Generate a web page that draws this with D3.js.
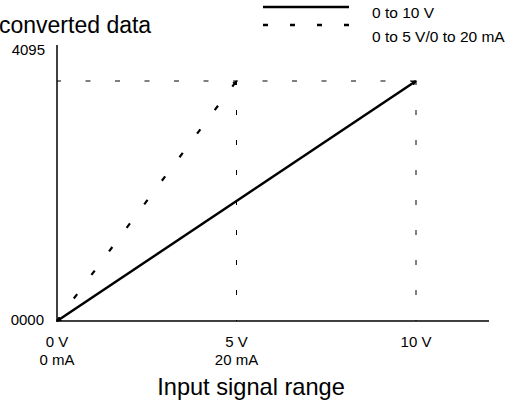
<!DOCTYPE html>
<html>
<head>
<meta charset="utf-8">
<script src="https://cdn.jsdelivr.net/npm/d3@7"></script>
<style>
  html, body { margin: 0; padding: 0; background: #fff; }
  svg { display: block; font-family: "Liberation Sans", Arial, Helvetica, sans-serif; }
</style>
</head>
<body>
<svg id="chart" width="509" height="402"></svg>
<script>
// ---- data ----
const xTickValues = [0, 5, 10];
const xTickLabelsV = ["0 V", "5 V", "10 V"];
const xTickLabelsMA = ["0 mA", "20 mA", ""];
const yTickLabels = ["0000", "4095"];
const series10V = [[0, 0], [10, 4095]];          // 0 to 10 V
const series5V = [[0, 0], [5, 4095]];            // 0 to 5 V / 0 to 20 mA
const legendLabels = ["0 to 10 V", "0 to 5 V/0 to 20 mA"];
const titleText = "converted data";
const xAxisTitle = "Input signal range";

// ---- layout ----
const svg = d3.select("#chart");
const x0 = 57, x10 = 416, y0 = 321, yTop = 81;
const x = d3.scaleLinear().domain([0, 10]).range([x0, x10]);
const y = d3.scaleLinear().domain([0, 4095]).range([y0, yTop]);

// markers
const defs = svg.append("defs");
defs.append("marker").attr("id", "arr").attr("viewBox", "0 0 10 10")
  .attr("refX", 8).attr("refY", 5).attr("markerWidth", 2.2).attr("markerHeight", 2.2)
  .attr("orient", "auto-start-reverse")
  .append("path").attr("d", "M0,0 L10,5 L0,10 Z").attr("fill", "#000");

// grid dashed reference lines
svg.append("line")
  .attr("x1", x(0)).attr("x2", x(10)).attr("y1", y(4095)).attr("y2", y(4095))
  .attr("stroke", "#000").attr("stroke-width", 1).attr("stroke-dasharray", "5,24.5")
  .attr("stroke-dashoffset", 1);
[5, 10].forEach(v => {
  svg.append("line")
    .attr("x1", x(v)).attr("x2", x(v)).attr("y1", y(4095)).attr("y2", y(0))
    .attr("stroke", "#000").attr("stroke-width", 1).attr("stroke-dasharray", "5,25")
    .attr("stroke-dashoffset", 1);
});

// axes
svg.append("line").attr("x1", x0).attr("x2", x0).attr("y1", 45).attr("y2", y0 + 1)
  .attr("stroke", "#000").attr("stroke-width", 1.5);
svg.append("line").attr("x1", x0).attr("x2", 489).attr("y1", y0).attr("y2", y0)
  .attr("stroke", "#000").attr("stroke-width", 1.5);

// series lines
const line = d3.line().x(d => x(d[0])).y(d => y(d[1]));
svg.append("path").datum(series5V).attr("d", line)
  .attr("fill", "none").attr("stroke", "#000").attr("stroke-width", 2.2)
  .attr("stroke-dasharray", "5.5,23.9").attr("stroke-dashoffset", 1.3)
  .attr("marker-end", "url(#arr)");
svg.append("path").datum(series10V).attr("d", line)
  .attr("fill", "none").attr("stroke", "#000").attr("stroke-width", 2.5)
  .attr("marker-end", "url(#arr)").attr("marker-start", "url(#arr)");

// y labels
svg.append("text").attr("x", 45).attr("y", 55).attr("text-anchor", "end")
  .attr("font-size", 15).text(yTickLabels[1]);
svg.append("text").attr("x", 44).attr("y", 325).attr("text-anchor", "end")
  .attr("font-size", 15).text(yTickLabels[0]);

// x labels
xTickValues.forEach((v, i) => {
  svg.append("text").attr("x", x(v)).attr("y", 347).attr("text-anchor", "middle")
    .attr("font-size", 15).text(xTickLabelsV[i]);
  if (xTickLabelsMA[i]) {
    svg.append("text").attr("x", x(v)).attr("y", 365).attr("text-anchor", "middle")
      .attr("font-size", 15).text(xTickLabelsMA[i]);
  }
});

// titles
svg.append("text").attr("x", -1).attr("y", 33).attr("font-size", 23).text(titleText);
svg.append("text").attr("x", 251).attr("y", 395).attr("text-anchor", "middle")
  .attr("font-size", 23.6).text(xAxisTitle);

// legend
svg.append("line").attr("x1", 263).attr("x2", 349).attr("y1", 7).attr("y2", 7)
  .attr("stroke", "#000").attr("stroke-width", 2.5);
svg.append("line").attr("x1", 263).attr("x2", 349).attr("y1", 25).attr("y2", 25)
  .attr("stroke", "#000").attr("stroke-width", 2.5).attr("stroke-dasharray", "5,22");
svg.append("text").attr("x", 372).attr("y", 18).attr("font-size", 15.5).text(legendLabels[0]);
svg.append("text").attr("x", 372).attr("y", 42).attr("font-size", 15.5).text(legendLabels[1]);
</script>
</body>
</html>
